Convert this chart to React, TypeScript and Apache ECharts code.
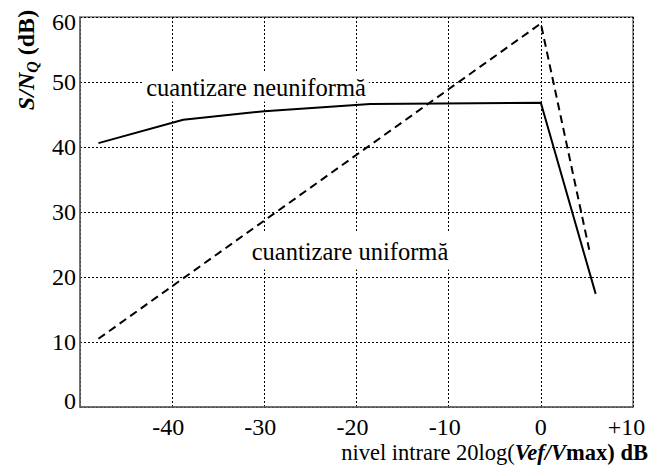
import React, { useEffect, useRef } from "react";
import * as echarts from "echarts";

const xTicks = [-50, -40, -30, -20, -10, 0, 10];
const yTicks = [0, 10, 20, 30, 40, 50, 60];

// cuantizare neuniformă (solid)
const nonUniformX = [-48, -38.8, -30, -18.5, 0, 5.95];
const nonUniformY = [40.6, 44.2, 45.5, 46.6, 46.8, 17.4];

// cuantizare uniformă (dashed)
const uniformX = [-48, 0, 5.25];
const uniformY = [10.5, 59, 24.2];

const labelNonUniform = "cuantizare neuniformă";
const labelUniform = "cuantizare uniformă";

const FONT = "Liberation Serif";

export default function App() {
  const ref = useRef<HTMLDivElement>(null);
  useEffect(() => {
    if (!ref.current) return;
    const chart = echarts.init(ref.current, null, { renderer: "svg" });
    const pairs = (xs: number[], ys: number[]) => xs.map((x, i) => [x, ys[i]]);
    const richBase = { fontSize: 24, fontFamily: FONT, fontWeight: "normal", color: "#000" };
    chart.setOption({
      animation: false,
      backgroundColor: "#fff",
      textStyle: { fontFamily: FONT },
      grid: {
        left: 80,
        right: 19,
        top: 17,
        bottom: 62,
        show: true,
        borderColor: "#777",
        borderWidth: 1.5,
        backgroundColor: "transparent",
      },
      xAxis: {
        type: "value",
        min: xTicks[0],
        max: xTicks[xTicks.length - 1],
        interval: 10,
        axisLine: { show: true, onZero: false, lineStyle: { color: "#666", width: 1.5 } },
        axisTick: { show: false },
        splitLine: { show: true, lineStyle: { color: "#000", width: 1, type: [2, 2] } },
        axisLabel: {
          margin: 8,
          color: "#000",
          fontSize: 24,
          fontFamily: FONT,
          formatter: (v: number) => {
            if (v === xTicks[0]) return "";
            if (v < 0) return `{n|${v}}`;
            if (v > 0) return `{p|+${v}}`;
            return `{z|${v}}`;
          },
          rich: {
            n: { ...richBase, padding: [0, 8, 0, 0] },
            p: { ...richBase, padding: [0, 13, 0, 0] },
            z: { ...richBase },
          },
        },
      },
      yAxis: {
        type: "value",
        min: yTicks[0],
        max: yTicks[yTicks.length - 1],
        interval: 10,
        axisLine: { show: true, onZero: false, lineStyle: { color: "#666", width: 1.5 } },
        axisTick: { show: false },
        splitLine: { show: true, lineStyle: { color: "#000", width: 1, type: [2, 2] } },
        axisLabel: {
          margin: 4,
          color: "#000",
          fontSize: 24,
          fontFamily: FONT,
          formatter: (v: number) => {
            if (v === yTicks[yTicks.length - 1]) return `{t|${v}}`;
            if (v === yTicks[0]) return `{b|${v}}`;
            return `{m|${v}}`;
          },
          rich: {
            t: { ...richBase, padding: [10, 0, 0, 0] },
            b: { ...richBase, padding: [0, 0, 12, 0] },
            m: { ...richBase },
          },
        },
      },
      graphic: [
        {
          type: "text",
          z: 10,
          x: 256,
          y: 87,
          style: {
            text: labelNonUniform,
            fontSize: 24.5,
            fontFamily: FONT,
            fill: "#000",
            align: "center",
            verticalAlign: "middle",
            backgroundColor: "#fff",
            padding: [2, 3, 2, 3],
          },
        },
        {
          type: "text",
          z: 10,
          x: 350,
          y: 251,
          style: {
            text: labelUniform,
            fontSize: 24.5,
            fontFamily: FONT,
            fill: "#000",
            align: "center",
            verticalAlign: "middle",
            backgroundColor: "#fff",
            padding: [6, 3, 6, 3],
          },
        },
        {
          type: "text",
          z: 10,
          x: 648,
          y: 452,
          style: {
            text: "{r|nivel intrare 20log(}{bi|Vef/V}{b|max) dB}",
            align: "right",
            verticalAlign: "middle",
            rich: {
              r: { fontSize: 22.5, fontFamily: FONT, fill: "#000" },
              bi: { fontSize: 22.5, fontFamily: FONT, fontWeight: "bold", fontStyle: "italic", fill: "#000" },
              b: { fontSize: 22.5, fontFamily: FONT, fontWeight: "bold", fill: "#000" },
            },
          },
        },
        {
          type: "text",
          z: 10,
          x: 26,
          y: 60,
          rotation: Math.PI / 2,
          style: {
            text: "{bi|S/N}{sub|Q}{b| (dB)}",
            align: "center",
            verticalAlign: "middle",
            rich: {
              bi: { fontSize: 24, fontFamily: FONT, fontWeight: "bold", fontStyle: "italic", fill: "#000" },
              sub: { fontSize: 16, fontFamily: FONT, fontWeight: "bold", fontStyle: "italic", fill: "#000", padding: [12, 0, 0, 0] },
              b: { fontSize: 24, fontFamily: FONT, fontWeight: "bold", fill: "#000" },
            },
          },
        },
      ],
      series: [
        {
          type: "line",
          data: pairs(nonUniformX, nonUniformY),
          symbol: "none",
          z: 20,
          lineStyle: { color: "#000", width: 2 },
        },
        {
          type: "line",
          data: pairs(uniformX, uniformY),
          symbol: "none",
          z: 20,
          lineStyle: { color: "#000", width: 2, type: [8, 5] },
        },
      ],
    });
    return () => chart.dispose();
  }, []);
  return <div ref={ref} style={{ width: 652, height: 469, position: "absolute", left: 0, top: 0 }} />;
}
